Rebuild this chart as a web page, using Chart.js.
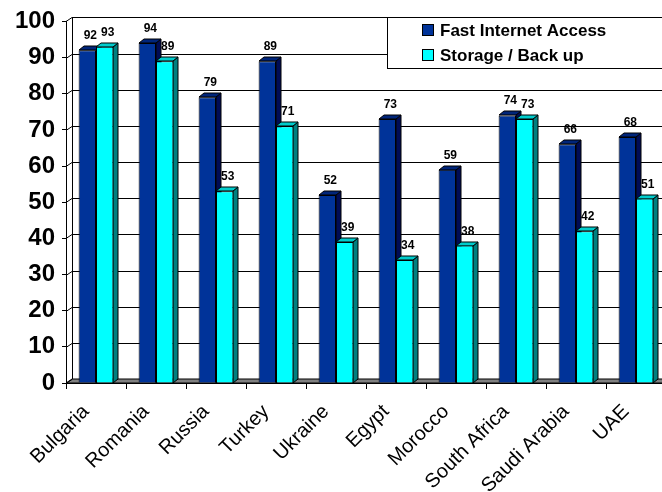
<!DOCTYPE html>
<html>
<head>
<meta charset="utf-8">
<script src="https://cdn.jsdelivr.net/npm/chart.js@4.4.1/dist/chart.umd.min.js"></script>
<style>
  html, body { margin: 0; padding: 0; overflow: hidden; background: #fff; }
</style>
</head>
<body>
<canvas id="chart" width="672" height="492"></canvas>
<script>
var countries = ["Bulgaria", "Romania", "Russia", "Turkey", "Ukraine", "Egypt", "Morocco", "South Africa", "Saudi Arabia", "UAE"];
var fastInternet = [92, 94, 79, 89, 52, 73, 59, 74, 66, 68];
var storageBackup = [93, 89, 53, 71, 39, 34, 38, 73, 42, 51];

var FONT = "'Liberation Sans', Arial, sans-serif";
var fronts = ['#003399', '#00ffff'];
var sides = ['#000c55', '#008080'];
var tops = ['#00257a', '#00cccc'];
var DX = 5, DY = -4;   // bar depth
var WX = 6, WY = -4;   // wall depth

var threeD = {
  id: 'threeD',
  beforeDatasetsDraw: function (chart) {
    var ctx = chart.ctx, a = chart.chartArea, y = chart.scales.y;
    ctx.save();
    ctx.strokeStyle = '#000';
    ctx.lineWidth = 1;
    // floor
    ctx.beginPath();
    ctx.moveTo(a.left, a.bottom);
    ctx.lineTo(a.right, a.bottom);
    ctx.lineTo(a.right + WX, a.bottom + WY);
    ctx.lineTo(a.left + WX, a.bottom + WY);
    ctx.closePath();
    ctx.fillStyle = '#808080';
    ctx.fill();
    ctx.stroke();
    // side wall diagonals and back wall gridlines
    y.ticks.forEach(function (t) {
      var py = Math.round(y.getPixelForValue(t.value)) + 0.5;
      ctx.beginPath();
      ctx.moveTo(a.left, py);
      ctx.lineTo(a.left + WX, py + WY);
      if (t.value > 0) ctx.lineTo(a.right + WX, py + WY);
      ctx.stroke();
    });
    ctx.beginPath();
    ctx.moveTo(a.left + WX + 0.5, a.bottom + WY);
    ctx.lineTo(a.left + WX + 0.5, a.top + WY);
    ctx.stroke();
    // bar sides and tops
    chart.data.datasets.forEach(function (ds, d) {
      chart.getDatasetMeta(d).data.forEach(function (bar) {
        var p = bar.getProps(['x', 'y', 'base', 'width'], true);
        var l = Math.round(p.x - p.width / 2), r = Math.round(p.x + p.width / 2);
        var top = Math.round(p.y), base = Math.round(p.base);
        ctx.beginPath();
        ctx.moveTo(r, top);
        ctx.lineTo(r + DX, top + DY);
        ctx.lineTo(r + DX, base + DY);
        ctx.lineTo(r, base);
        ctx.closePath();
        ctx.fillStyle = sides[d];
        ctx.fill();
        ctx.stroke();
        ctx.beginPath();
        ctx.moveTo(l, top);
        ctx.lineTo(l + DX, top + DY);
        ctx.lineTo(r + DX, top + DY);
        ctx.lineTo(r, top);
        ctx.closePath();
        ctx.fillStyle = tops[d];
        ctx.fill();
        ctx.stroke();
      });
    });
    ctx.restore();
  },
  afterDatasetsDraw: function (chart) {
    var ctx = chart.ctx;
    ctx.save();
    ctx.fillStyle = '#000';
    ctx.font = 'bold 12px ' + FONT;
    ctx.textAlign = 'center';
    ctx.textBaseline = 'alphabetic';
    chart.data.datasets.forEach(function (ds, d) {
      chart.getDatasetMeta(d).data.forEach(function (bar, i) {
        var p = bar.getProps(['x', 'y'], true);
        ctx.fillText(String(ds.data[i]), p.x + 3, p.y - 11);
      });
    });
    ctx.restore();
  },
  afterDraw: function (chart) {
    var ctx = chart.ctx;
    ctx.save();
    ctx.fillStyle = '#fff';
    ctx.strokeStyle = '#000';
    ctx.lineWidth = 1;
    ctx.fillRect(387, 17, 300, 51);
    ctx.strokeRect(387.5, 17.5, 300, 51);
    ctx.font = 'bold 17px ' + FONT;
    ctx.textBaseline = 'middle';
    chart.data.datasets.forEach(function (ds, d) {
      var ry = 24 + d * 25;
      ctx.fillStyle = ds.backgroundColor;
      ctx.fillRect(422, ry, 12, 12);
      ctx.strokeRect(422.5, ry + 0.5, 11, 11);
      ctx.fillStyle = '#000';
      ctx.fillText(ds.label, 440, ry + 7);
    });
    ctx.restore();
  }
};

var canvas = document.getElementById('chart');
var context = canvas.getContext('2d');

var chart = new Chart(context, {
  type: 'bar',
  data: {
    labels: countries,
    datasets: [
      {
        label: "Fast Internet Access",
        backgroundColor: fronts[0],
        borderColor: '#000',
        borderWidth: 1,
        data: fastInternet
      }, {
        label: "Storage / Back up",
        backgroundColor: fronts[1],
        borderColor: '#000',
        borderWidth: 1,
        data: storageBackup
      }
    ]
  },
  options: {
    responsive: false,
    animation: false,
    layout: { padding: { top: 16, right: 6, left: 0, bottom: 0 } },
    datasets: { bar: { categoryPercentage: 0.58, barPercentage: 1.0 } },
    plugins: { legend: { display: false }, tooltip: { enabled: false } },
    scales: {
      x: {
        grid: { display: true, drawOnChartArea: false, tickLength: 6, color: '#000', offset: true },
        border: { display: true, color: '#000' },
        ticks: { color: '#000', font: { family: FONT, size: 20 }, maxRotation: 45, minRotation: 45, padding: 11, labelOffset: -10 },
        afterFit: function (scale) { scale.height = 109; scale.paddingLeft = 0; scale.paddingRight = 0; }
      },
      y: {
        min: 0,
        max: 100,
        grid: { drawOnChartArea: false, tickLength: 4, color: '#000' },
        border: { display: true, color: '#000' },
        ticks: { stepSize: 10, color: '#000', padding: 7, font: { family: FONT, size: 24, weight: 'bold' } },
        afterFit: function (scale) { scale.width = 66; }
      }
    }
  },
  plugins: [threeD]
});
</script>
</body>
</html>
